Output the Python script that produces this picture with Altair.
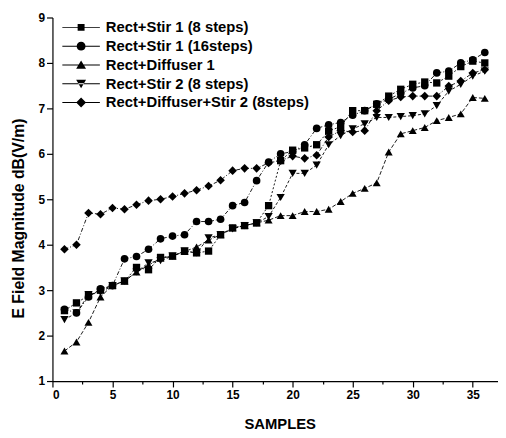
import altair as alt
import pandas as pd

samples = [1, 2, 3, 4, 5, 6, 7, 8, 9, 10, 11, 12, 13, 14, 15, 16, 17, 18,
           19, 20, 21, 22, 23, 24, 25, 26, 27, 28, 29, 30, 31, 32, 33, 34, 35, 36]

series_names = [
    "Rect+Stir 1 (8 steps)",
    "Rect+Stir 1 (16steps)",
    "Rect+Diffuser 1",
    "Rect+Stir 2 (8 steps)",
    "Rect+Diffuser+Stir 2 (8steps)",
]

stir1_8 = [2.55, 2.72, 2.88, 3.0, 3.1, 3.2, 3.5, 3.45, 3.72, 3.75, 3.86, 3.82,
           3.86, 4.22, 4.37, 4.42, 4.48, 4.86, 5.85, 6.08, 6.13, 6.2, 6.5, 6.6,
           6.95, 6.95, 7.09, 7.27, 7.42, 7.53, 7.58, 7.56, 7.71, 7.92, 8.04, 8.0]
stir1_16 = [2.58, 2.5, 2.85, 3.03, 3.1, 3.69, 3.74, 3.9, 4.13, 4.19, 4.22, 4.51,
            4.51, 4.56, 4.86, 4.93, 5.41, 5.82, 6.0, 6.05, 6.2, 6.56, 6.64, 6.69,
            6.85, 6.95, 7.1, 7.2, 7.33, 7.45, 7.5, 7.78, 7.82, 8.0, 8.07, 8.23]
diffuser1 = [1.66, 1.86, 2.29, 2.85, 3.11, 3.2, 3.4, 3.55, 3.7, 3.75, 3.85, 3.95,
             4.1, 4.22, 4.37, 4.42, 4.48, 4.54, 4.64, 4.64, 4.73, 4.73, 4.78, 4.95,
             5.13, 5.24, 5.36, 6.04, 6.44, 6.51, 6.58, 6.73, 6.8, 6.88, 7.24, 7.22]
stir2_8 = [2.35, 2.5, 2.9, 2.95, 3.1, 3.2, 3.4, 3.6, 3.65, 3.75, 3.86, 3.82,
           4.15, 4.22, 4.35, 4.42, 4.48, 4.62, 5.04, 5.57, 5.57, 5.75, 6.2, 6.4,
           6.55, 6.66, 6.8, 6.8, 6.82, 6.84, 6.88, 7.06, 7.38, 7.53, 7.71, 7.82]
diff_stir2 = [3.9, 4.0, 4.7, 4.67, 4.81, 4.78, 4.88, 4.97, 5.0, 5.06, 5.13, 5.2,
              5.29, 5.42, 5.63, 5.68, 5.68, 5.8, 5.85, 5.95, 5.9, 5.97, 6.37, 6.51,
              6.48, 6.51, 6.95, 7.17, 7.25, 7.27, 7.27, 7.27, 7.49, 7.6, 7.78, 7.85]

x_ticks = [0, 2.5, 5, 7.5, 10, 12.5, 15, 17.5, 20, 22.5, 25, 27.5, 30, 32.5, 35]
y_ticks = [1, 1.5, 2, 2.5, 3, 3.5, 4, 4.5, 5, 5.5, 6, 6.5, 7, 7.5, 8, 8.5, 9]

marker_shapes = ["square", "circle", "triangle-up", "triangle-down", "diamond"]
marker_sizes = [55, 75, 95, 95, 95]
dash_styles = [[2, 2], [4, 2, 1, 2], [4, 2], [3, 2], [4, 2, 1, 2]]

# legend glyph: thin filled bar (line sample) plus the marker
line_seg = "M-1.9,-0.05H1.9V0.05H-1.9Z"
legend_paths = [
    line_seg + "M-0.35,-0.35H0.35V0.35H-0.35Z",
    line_seg + "M0.45,0A0.45,0.45,0,1,1,-0.45,0A0.45,0.45,0,1,1,0.45,0Z",
    line_seg + "M0,-0.45L0.5,0.4L-0.5,0.4Z",
    line_seg + "M0,0.45L0.5,-0.4L-0.5,-0.4Z",
    line_seg + "M0,-0.5L0.5,0L0,0.5L-0.5,0Z",
]

rows = []
for name, vals in zip(series_names, [stir1_8, stir1_16, diffuser1, stir2_8, diff_stir2]):
    for s, v in zip(samples, vals):
        rows.append({"sample": s, "value": v, "series": name})
df = pd.DataFrame(rows)

FONT = "Liberation Sans"

x_enc = alt.X(
    "sample:Q",
    scale=alt.Scale(domain=[0, 37.1], nice=False, zero=False),
    axis=alt.Axis(
        values=x_ticks,
        format="d",
        labelExpr="datum.value % 5 === 0 ? datum.label : ''",
        tickSize={"condition": {"test": "datum.value % 5 !== 0", "value": 3}, "value": 6},
        labelPadding=3,
        title="SAMPLES",
        titleX=230,
        titleY=43,
        titleBaseline="middle",
        titleAlign="center",
    ),
)
y_enc = alt.Y(
    "value:Q",
    scale=alt.Scale(domain=[1, 9], nice=False, zero=False),
    axis=alt.Axis(
        values=y_ticks,
        format="d",
        labelExpr="datum.value % 1 === 0 ? datum.label : ''",
        tickSize={"condition": {"test": "datum.value % 1 !== 0", "value": 3}, "value": 6},
        labelPadding=2,
        title="E Field Magnitude dB(V/m)",
        titleX=-34,
        titleY=203,
        titleAngle=-90,
        titleBaseline="middle",
        titleAlign="center",
        titleFontSize=16,
    ),
)

lines = alt.Chart(df).mark_line(color="black", strokeWidth=0.9).encode(
    x=x_enc,
    y=y_enc,
    strokeDash=alt.StrokeDash("series:N", scale=alt.Scale(domain=series_names, range=dash_styles), legend=None),
    detail="series:N",
)

points = alt.Chart(df).mark_point(filled=True, color="black", opacity=1).encode(
    x=x_enc,
    y=y_enc,
    shape=alt.Shape("series:N", scale=alt.Scale(domain=series_names, range=marker_shapes), legend=None),
    size=alt.Size("series:N", scale=alt.Scale(domain=series_names, range=marker_sizes), legend=None),
)

legend_layer = alt.Chart(df).mark_point(filled=True, color="black", opacity=1).encode(
    x=x_enc,
    y=y_enc,
    shape=alt.Shape(
        "series:N",
        scale=alt.Scale(domain=series_names, range=legend_paths),
        legend=alt.Legend(
            title=None,
            orient="none",
            legendX=18,
            legendY=-1,
            padding=0,
            rowPadding=0,
            symbolSize=400,
            symbolFillColor="black",
            symbolOpacity=1,
            labelFont=FONT,
            labelFontSize=15,
            labelFontWeight="bold",
            labelColor="black",
            labelOffset=14,
            labelLimit=500,
        ),
    ),
).transform_filter("datum.sample < 0")

chart = (
    alt.layer(lines, points, legend_layer)
    .resolve_scale(shape="independent")
    .properties(
        width=451,
        height=368,
        autosize=alt.AutoSizeParams(type="none"),
        padding={"left": 45, "top": 7, "right": 0, "bottom": 52},
        background="white",
    )
    .configure_view(stroke=None)
    .configure_axis(
        grid=False,
        domainColor="black",
        domainWidth=1.2,
        tickColor="black",
        tickWidth=1.2,
        labelFont=FONT,
        labelFontSize=12,
        labelFontWeight="bold",
        labelColor="black",
        titleFont=FONT,
        titleFontSize=15,
        titleFontWeight="bold",
        titleColor="black",
    )
)

chart.save("out.html", embed_options={"renderer": "svg", "actions": False})
